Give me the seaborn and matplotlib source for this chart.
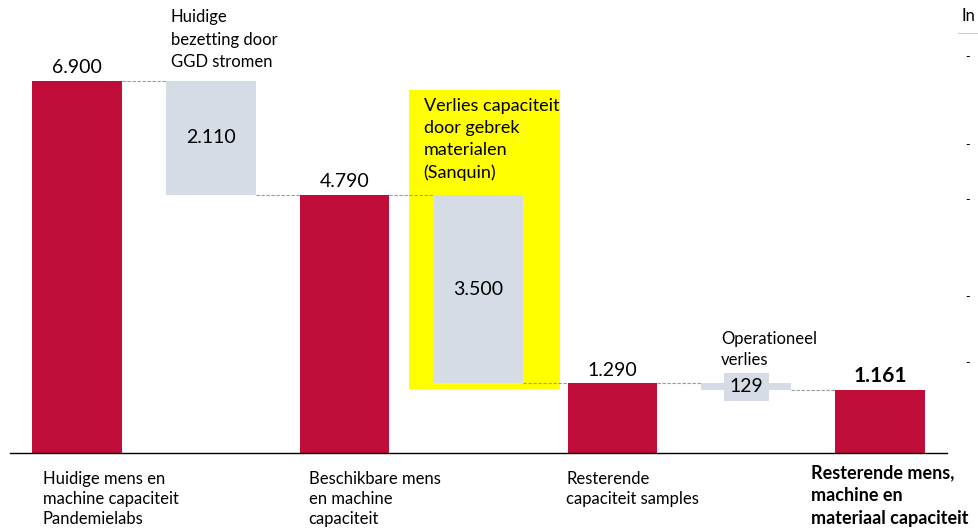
import matplotlib
matplotlib.use("Agg")
import matplotlib.pyplot as plt
from matplotlib.patches import Rectangle
import seaborn as sns
import pandas as pd

# ==========================
# Data
# ==========================
steps = ["total1", "ggd", "total2", "sanquin", "total3", "operationeel", "total4"]
step_values = [6900, -2110, 4790, -3500, 1290, -129, 1161]
is_total = [True, False, True, False, True, False, True]
value_labels = ["6.900", "2.110", "4.790", "3.500", "1.290", "129", "1.161"]
category_labels = [
    "Huidige mens en\nmachine capaciteit\nPandemielabs",
    "Beschikbare mens\nen machine\ncapaciteit",
    "Resterende\ncapaciteit samples",
    "Resterende mens,\nmachine en\nmateriaal capaciteit",
]
step_notes = [
    "Huidige\nbezetting door\nGGD stromen",
    "Verlies capaciteit\ndoor gebrek\nmaterialen\n(Sanquin)",
    "Operationeel\nverlies",
]

RED = "#C00D3A"
GREY = "#D6DCE5"
YELLOW = "#FFFF00"

# bar bottoms / heights from the running total
bottoms, heights, tops = [], [], []
running = 0
for v, tot in zip(step_values, is_total):
    if tot:
        bottoms.append(0)
        heights.append(v)
        running = v
    else:
        bottoms.append(running + v)
        heights.append(-v)
        running = running + v
    tops.append(bottoms[-1] + heights[-1])

df = pd.DataFrame({"step": steps, "bottom": bottoms, "height": heights,
                   "total": is_total})
df_tot = df[df["total"]]
df_delta = df[~df["total"]]

plt.rcParams['font.family'] = ['Lato', 'DejaVu Sans']

fig = plt.figure(figsize=(9.79, 5.32), dpi=100)
px_per_unit = 372 / 6900
ax = fig.add_axes([10 / 979, (532 - 453) / 532, 937 / 979, 453 / 532])

# yellow highlight behind the Sanquin step
ax.add_patch(Rectangle((2.478, 1187), 3.612 - 2.478, 6733 - 1187,
                       facecolor=YELLOW, edgecolor="none", zorder=0))

sns.barplot(data=df_tot, x="step", y="height", order=steps, color=RED,
            width=0.67, saturation=1, ax=ax, zorder=2)
sns.barplot(data=df_delta, x="step", y="height", order=steps, color=GREY,
            bottom=df_delta["bottom"].to_numpy(),
            width=0.67, saturation=1, ax=ax, zorder=2)

ax.set_xlim(-0.5, 6.5)
ax.set_ylim(0, 453 / px_per_unit)
for s in ["top", "right", "left"]:
    ax.spines[s].set_visible(False)
ax.spines["bottom"].set_color("black")
ax.spines["bottom"].set_linewidth(1.0)
ax.set_xticks([])
ax.set_yticks([])
ax.set_xlabel("")
ax.set_ylabel("")

# dashed connectors between the bars
hw = 0.67 / 2
for i in range(len(steps) - 1):
    level = tops[i] if is_total[i] else bottoms[i]
    ax.plot([i + hw, i + 1 - hw], [level, level], color="#999999",
            lw=0.8, ls=(0, (3, 1.5)), zorder=1)

# value labels
for i, (lab, tot) in enumerate(zip(value_labels, is_total)):
    if tot:
        bold = i == len(steps) - 1
        ax.text(i, tops[i] + 90, lab, ha="center", va="bottom",
                fontsize=15 if bold else 14,
                fontweight="bold" if bold else "normal", zorder=3)
    elif heights[i] > 1000:
        ax.text(i, bottoms[i] + heights[i] / 2, lab,
                ha="center", va="center", fontsize=14, zorder=3)
    else:
        ax.text(i, bottoms[i] + heights[i] / 2, lab, ha="center", va="center",
                fontsize=14, zorder=3,
                bbox=dict(boxstyle="square,pad=0.3", fc=GREY, ec="none"))

# notes above the delta bars
ax.text(0.70, 8230, step_notes[0], ha="left", va="top", multialignment="left",
        fontsize=12, linespacing=1.5, clip_on=False)
ax.text(2.59, 6580, step_notes[1], ha="left", va="top", multialignment="left",
        fontsize=13, linespacing=1.45)
ax.text(4.81, 2260, step_notes[2], ha="left", va="top", multialignment="left",
        fontsize=12, linespacing=1.4)

# category labels under the axis
cat_x = [-0.254, 1.731, 3.657, 5.485]
for j, (x, lab) in enumerate(zip(cat_x, category_labels)):
    bold = j == len(category_labels) - 1
    ax.text(x, -200 if bold else -330, lab, ha="left", va="top",
            multialignment="left", fontsize=13 if bold else 12,
            fontweight="bold" if bold else "normal",
            linespacing=1.45 if bold else 1.33, clip_on=False)

# clipped fragment of a neighbouring panel on the right
fig.text(962 / 979, 1 - 16 / 532, "In", ha="left", va="center", fontsize=12)
fig.add_artist(plt.Line2D([958 / 979, 1], [1 - 33 / 532, 1 - 33 / 532],
                          color="#cccccc", lw=0.8))
for yy in [57, 145, 200, 297, 363]:
    fig.text(965 / 979, 1 - yy / 532, "-", ha="left", va="center", fontsize=9)

fig.savefig("out.png", dpi=100)
